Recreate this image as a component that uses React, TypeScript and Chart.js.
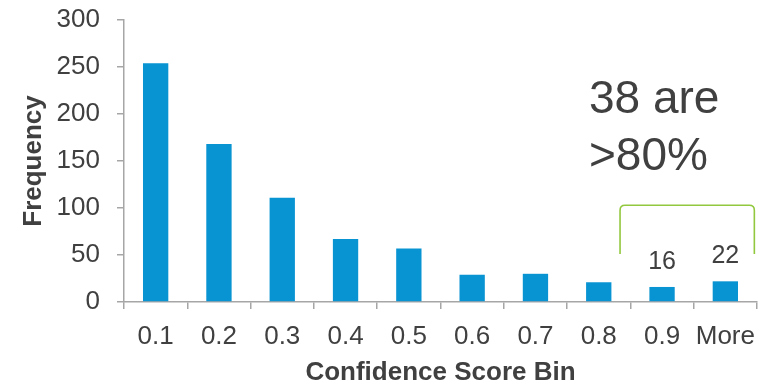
import React, { useEffect, useRef } from "react";
import { Chart, registerables } from "chart.js";

Chart.register(...registerables);

const categories = ["0.1", "0.2", "0.3", "0.4", "0.5", "0.6", "0.7", "0.8", "0.9", "More"];
const frequencies = [254, 168, 111, 67, 57, 29, 30, 21, 16, 22];
const labeledIndices = [8, 9];
const annotationLines = ["38 are", ">80%"];
const yTicks = [0, 50, 100, 150, 200, 250, 300];

const FONT = "'Liberation Sans', Arial, sans-serif";
const TEXT = "#404040";
const AXIS = "#a6a6a6";
const BAR = "#0893d2";
const GREEN = "#92c83e";

const overlayPlugin = {
  id: "overlay",
  afterDatasetsDraw(chart: any) {
    const ctx = chart.ctx;
    const x = chart.scales.x;
    const y = chart.scales.y;
    const meta = chart.getDatasetMeta(0);
    ctx.save();
    ctx.fillStyle = TEXT;
    ctx.font = `25px ${FONT}`;
    ctx.textAlign = "center";
    ctx.textBaseline = "alphabetic";
    labeledIndices.forEach((i) => {
      const el = meta.data[i];
      ctx.fillText(String(frequencies[i]), el.x, el.y - 18);
    });

    // bracket spanning the labeled bins
    const first = labeledIndices[0];
    const last = labeledIndices[labeledIndices.length - 1];
    const xl = x.getPixelForValue(first) - 42;
    const xr = x.getPixelForValue(last) + 29;
    const yt = y.getPixelForValue(103);
    const yb = y.getPixelForValue(51);
    const r = 5;
    ctx.strokeStyle = GREEN;
    ctx.lineWidth = 1.6;
    ctx.beginPath();
    ctx.moveTo(xl, yb);
    ctx.lineTo(xl, yt + r);
    ctx.quadraticCurveTo(xl, yt, xl + r, yt);
    ctx.lineTo(xr - r, yt);
    ctx.quadraticCurveTo(xr, yt, xr, yt + r);
    ctx.lineTo(xr, yb);
    ctx.stroke();

    // annotation text
    ctx.font = `46px ${FONT}`;
    ctx.textAlign = "left";
    const tx = chart.chartArea.right - 168;
    const ty = chart.chartArea.top + 93;
    annotationLines.forEach((line, k) => {
      ctx.fillText(line, tx, ty + k * 57);
    });
    ctx.restore();
  },
};

export default function App() {
  const ref = useRef<HTMLCanvasElement | null>(null);
  useEffect(() => {
    document.body.style.margin = "0";
    const chart = new Chart(ref.current!, {
      type: "bar",
      data: {
        labels: categories,
        datasets: [
          {
            data: frequencies,
            backgroundColor: BAR,
            borderWidth: 0,
            categoryPercentage: 1,
            barPercentage: 0.4,
          },
        ],
      },
      plugins: [overlayPlugin],
      options: {
        animation: false,
        responsive: false,
        maintainAspectRatio: false,
        layout: { padding: { top: 20, right: 12, left: 0, bottom: 0 } },
        plugins: {
          legend: { display: false },
          tooltip: { enabled: false },
        },
        scales: {
          x: {
            grid: {
              display: true,
              drawOnChartArea: false,
              drawTicks: true,
              tickLength: 7,
              color: AXIS,
              lineWidth: 1.5,
              offset: true,
            },
            border: { display: true, color: AXIS, width: 1.5 },
            ticks: {
              color: TEXT,
              font: { family: FONT, size: 26 },
              padding: 12,
              maxRotation: 0,
              autoSkip: false,
            },
            title: {
              display: true,
              text: "Confidence Score Bin",
              color: TEXT,
              font: { family: FONT, size: 26, weight: "bold", lineHeight: 1.0 },
              padding: { top: 0, bottom: 0 },
            },
            afterFit(scale: any) {
              scale.height = 84;
              scale.paddingLeft = 0;
              scale.paddingRight = 0;
            },
          },
          y: {
            min: 0,
            max: 300,
            afterBuildTicks(scale: any) {
              scale.ticks = yTicks.map((v) => ({ value: v }));
            },
            grid: {
              display: true,
              drawOnChartArea: false,
              drawTicks: true,
              tickLength: 7,
              color: AXIS,
              lineWidth: 1.5,
            },
            border: { display: true, color: AXIS, width: 1.5 },
            ticks: {
              color: TEXT,
              font: { family: FONT, size: 26 },
              padding: 17,
            },
            title: {
              display: true,
              text: "Frequency",
              color: TEXT,
              font: { family: FONT, size: 26, weight: "bold", lineHeight: 1.0 },
              padding: { top: 21, bottom: 0 },
            },
            afterFit(scale: any) {
              scale.width = 124;
              scale.paddingTop = 0;
              scale.paddingBottom = 0;
            },
          },
        },
      },
    });
    return () => chart.destroy();
  }, []);
  return (
    <div style={{ width: 769, height: 386 }}>
      <canvas ref={ref} width={769} height={386} style={{ display: "block" }} />
    </div>
  );
}
